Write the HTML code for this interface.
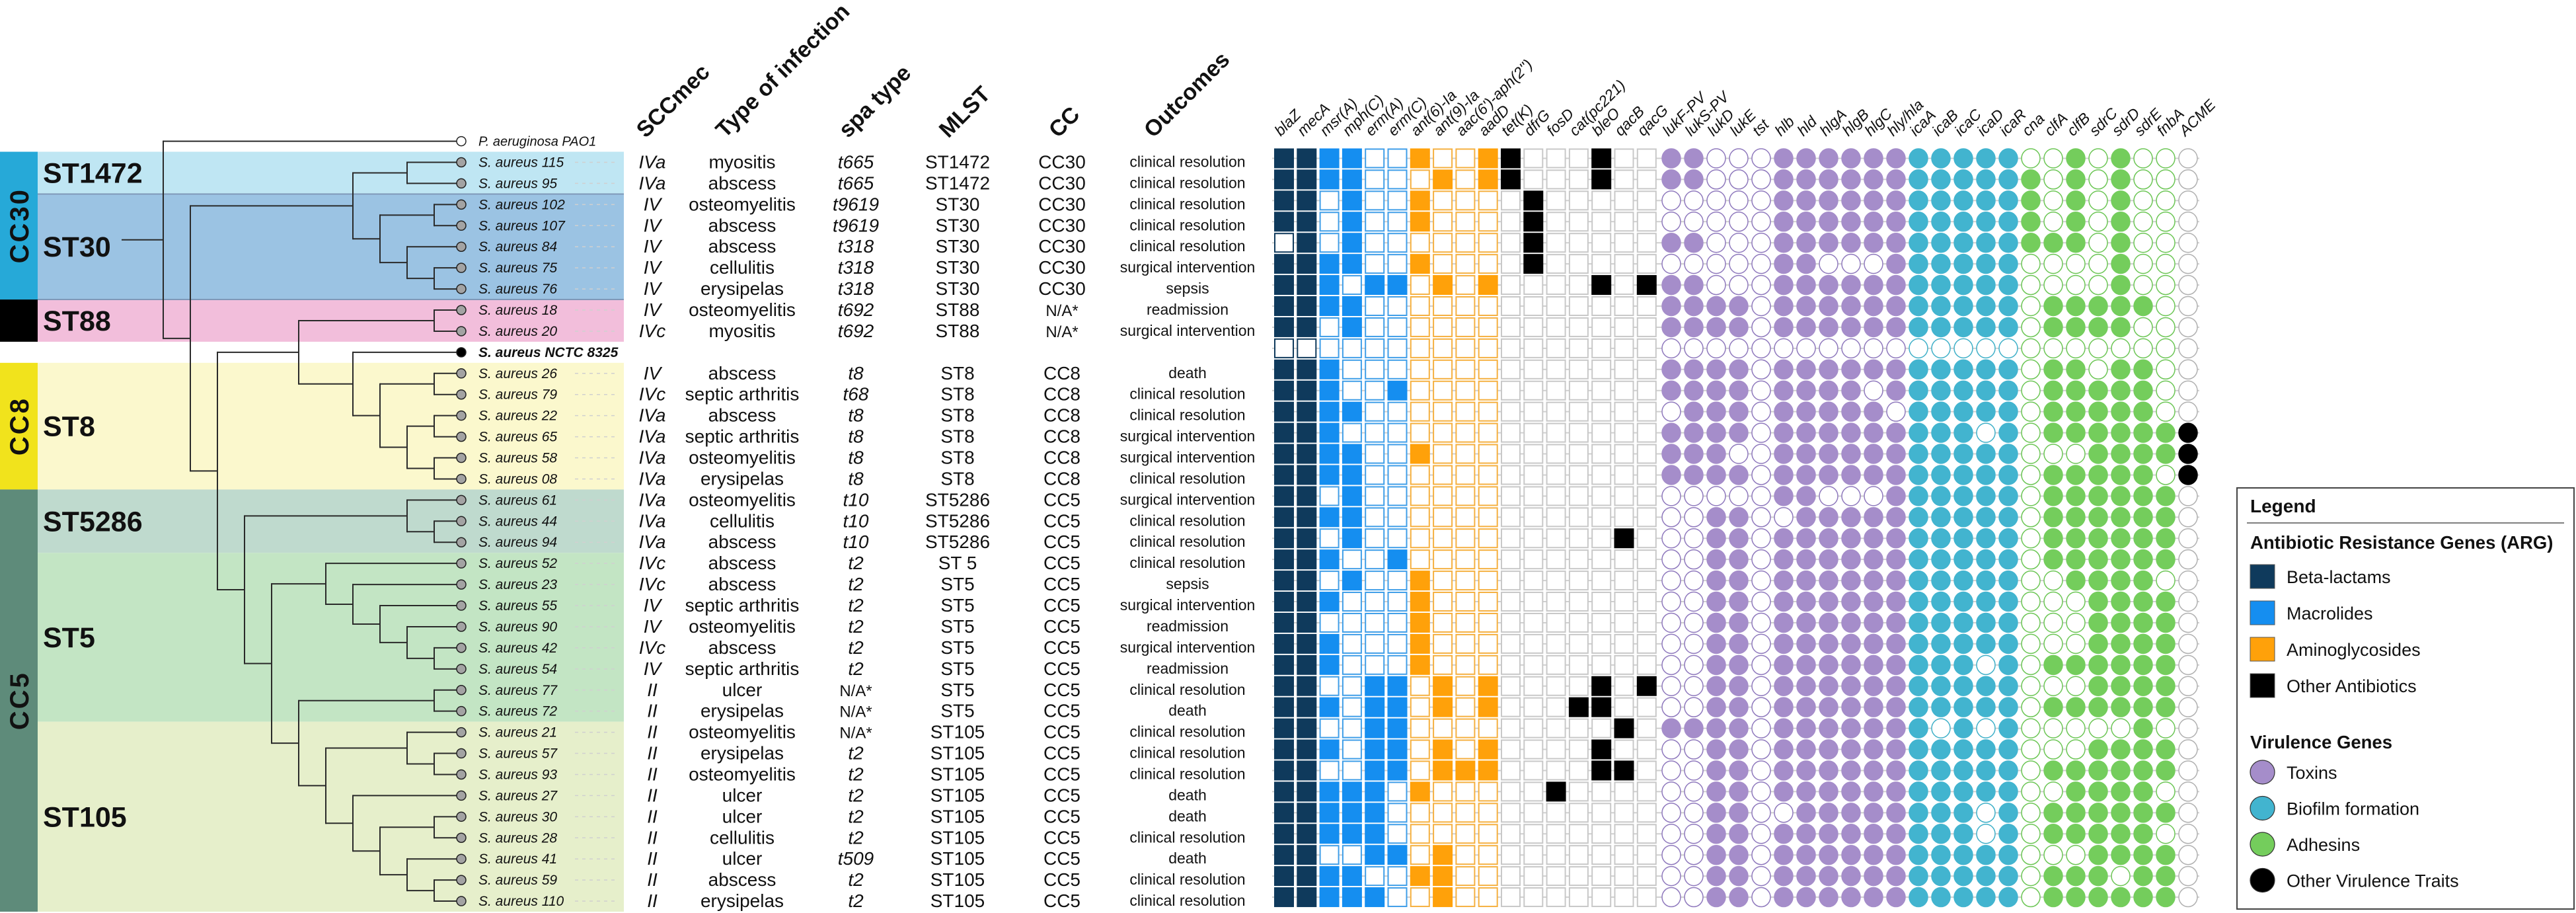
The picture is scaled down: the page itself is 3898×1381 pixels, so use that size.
<!DOCTYPE html>
<html><head><meta charset="utf-8">
<style>
html,body{margin:0;padding:0;background:#fff;}
svg{display:block;font-family:"Liberation Sans",sans-serif;}
</style></head>
<body>
<svg id="fig" xmlns="http://www.w3.org/2000/svg" width="3898" height="1381" viewBox="0 0 3898 1381"></svg>
<script>
// ---------- data ----------
const strains = ["S. aureus 115","S. aureus 95","S. aureus 102","S. aureus 107","S. aureus 84","S. aureus 75","S. aureus 76","S. aureus 18","S. aureus 20","S. aureus NCTC 8325","S. aureus 26","S. aureus 79","S. aureus 22","S. aureus 65","S. aureus 58","S. aureus 08","S. aureus 61","S. aureus 44","S. aureus 94","S. aureus 52","S. aureus 23","S. aureus 55","S. aureus 90","S. aureus 42","S. aureus 54","S. aureus 77","S. aureus 72","S. aureus 21","S. aureus 57","S. aureus 93","S. aureus 27","S. aureus 30","S. aureus 28","S. aureus 41","S. aureus 59","S. aureus 110"];
const sccmec = ["IVa","IVa","IV","IV","IV","IV","IV","IV","IVc","","IV","IVc","IVa","IVa","IVa","IVa","IVa","IVa","IVa","IVc","IVc","IV","IV","IVc","IV","II","II","II","II","II","II","II","II","II","II","II"];
const infection = ["myositis","abscess","osteomyelitis","abscess","abscess","cellulitis","erysipelas","osteomyelitis","myositis","","abscess","septic arthritis","abscess","septic arthritis","osteomyelitis","erysipelas","osteomyelitis","cellulitis","abscess","abscess","abscess","septic arthritis","osteomyelitis","abscess","septic arthritis","ulcer","erysipelas","osteomyelitis","erysipelas","osteomyelitis","ulcer","ulcer","cellulitis","ulcer","abscess","erysipelas"];
const spaType = ["t665","t665","t9619","t9619","t318","t318","t318","t692","t692","","t8","t68","t8","t8","t8","t8","t10","t10","t10","t2","t2","t2","t2","t2","t2","N/A*","N/A*","N/A*","t2","t2","t2","t2","t2","t509","t2","t2"];
const mlst = ["ST1472","ST1472","ST30","ST30","ST30","ST30","ST30","ST88","ST88","","ST8","ST8","ST8","ST8","ST8","ST8","ST5286","ST5286","ST5286","ST 5","ST5","ST5","ST5","ST5","ST5","ST5","ST5","ST105","ST105","ST105","ST105","ST105","ST105","ST105","ST105","ST105"];
const ccs = ["CC30","CC30","CC30","CC30","CC30","CC30","CC30","N/A*","N/A*","","CC8","CC8","CC8","CC8","CC8","CC8","CC5","CC5","CC5","CC5","CC5","CC5","CC5","CC5","CC5","CC5","CC5","CC5","CC5","CC5","CC5","CC5","CC5","CC5","CC5","CC5"];
const outcomes = ["clinical resolution","clinical resolution","clinical resolution","clinical resolution","clinical resolution","surgical intervention","sepsis","readmission","surgical intervention","","death","clinical resolution","clinical resolution","surgical intervention","surgical intervention","clinical resolution","surgical intervention","clinical resolution","clinical resolution","clinical resolution","sepsis","surgical intervention","readmission","surgical intervention","readmission","clinical resolution","death","clinical resolution","clinical resolution","clinical resolution","death","death","clinical resolution","death","clinical resolution","clinical resolution"];

const argGenes = ["blaZ","mecA","msr(A)","mph(C)","erm(A)","erm(C)","ant(6)-Ia","ant(9)-Ia","aac(6')-aph(2'')","aadD","tet(K)","dfrG","fosD","cat(pc221)","bleO","qacB","qacG"];
const argClass = ["b","b","m","m","m","m","a","a","a","a","o","o","o","o","o","o","o"];
const virGenes = ["lukF-PV","lukS-PV","lukD","lukE","tst","hlb","hld","hlgA","hlgB","hlgC","hly/hla","icaA","icaB","icaC","icaD","icaR","cna","clfA","clfB","sdrC","sdrD","sdrE","fnbA","ACME"];
const virClass = ["t","t","t","t","t","t","t","t","t","t","t","f","f","f","f","f","d","d","d","d","d","d","d","x"];

const argPresence = [
"11110010011000100","11110001011000100","11010010000100000","11010010000100000","01010000000100000",
"11110010000100000","11101101010000101","11110000000000000","11010000000000000","00000000000000000",
"11100000000000000","11100100000000000","11110000000000000","11100000000000000","11110010000000000",
"11110000000000000","11010000000000000","11110000000000000","11010000000000010","11100100000000000",
"11010010000000000","11100010000000000","11000010000000000","11100010000000000","11100010000000000",
"11001101010000101","11101101010001100","11001100000000010","11101101010000100","11001101110000110",
"11111010000010000","11111000000000000","11111000000000000","11001101000000000","11110011000000000",
"11111001000000000"];
const virPresence = [
"110001111111111100101000","110001111111111110101000","000001111111111110101000","000001111111111110101000",
"110001111111111111101000","000001100011111100001000","110001111111111100001000","111101111111111101111100",
"111101111111111101111000","000000000000000000000000","111101111111111101101100","111101111011111101111100",
"011101111101111101111100","111101111111110101111111","111001111111111100011111","111101111111111101111101",
"000001100011111101111110","001100111111111101111110","001101111111111101111110","001101111111111101111110",
"001101111111111100111100","001101111111111100011110","001101111111111100011110","001101111111111100011110",
"001101111111110101111110","001101111111111100011110","001101111111111101111110","111101111111010100000100",
"001101111111111100011110","001101111111111101111110","001101111111111100111100","001100111111110101111110",
"001101111111110101111100","001101111111111100011110","001101111111111101110110","001101111111111101111110"];

// tree: [level, child, child]; leaves are row indices (-1 = outgroup)
const tree = [0, -1, [1,
  [7, [9,0,1], [8, [10,2,3], [9, 4, [10,5,6]]]],
  [2,
    [5, [10,7,8], [7, 9, [8, [10,10,11], [9, [10,12,13], [10,14,15]]]]],
    [3, [9,16,[10,17,18]],
      [4,
        [6, 19, [7, 20, [8, 21, [9, 22, [10,23,24]]]]],
        [5, [10,25,26], [6, [9,27,[10,28,29]], [7, 30, [8, [10,31,32], [9, 33, [10,34,35]]]]]]
      ]
    ]
  ]
]];

const stGroups = ["ST1472","ST30","ST88","ST8","ST5286","ST5","ST105"];
const stRows = [[0,1],[2,6],[7,8],[10,15],[16,18],[19,26],[27,35]];
const stColors = ["#bfe6f3","#9bc3e3","#f2bedb","#fbf8cd","#bfdace","#c3e5c4","#e6efcb"];
const ccGroups = ["CC30","","CC8","CC5"];
const ccRows = [[0,6],[7,8],[10,15],[16,35]];
const ccColors = ["#26a9d8","#000000","#f1e31c","#5e8b7a"];

// ---------- layout ----------
const NS = "http://www.w3.org/2000/svg";
const svg = document.getElementById("fig");
const rowY = i => 245.5 + 31.93 * i;
const matY = i => 239.5 + 31.93 * i;
const lvlX = l => 247 + 41 * l;
const TIPX = 698;
const sqX = k => 1928 + 34.3 * k;
const ciX = k => 2529 + 34 * k;
const FILL = {b:"#0f3a5c",m:"#158ef0",a:"#ffa10a",o:"#000",t:"#a58dca",f:"#42b4cf",d:"#74cd5c",x:"#000"};
const STROKE = {b:"#0f3a5c",m:"#3f9ee8",a:"#f5b040",o:"#c8c8c8",t:"#8f79bd",f:"#3fb0c8",d:"#6cc655",x:"#b0b0b0"};

function mk(tag, attrs, parent, txt){
  const e = document.createElementNS(NS, tag);
  for (const k in attrs) e.setAttribute(k, attrs[k]);
  if (txt !== undefined) e.textContent = txt;
  (parent || svg).appendChild(e);
  return e;
}
let el;

stGroups.forEach((g, i) => {
  const y0 = rowY(stRows[i][0]) - 15.97, y1 = rowY(stRows[i][1]) + 15.97;
  el = mk("rect", {x:57, y:y0, width:887, height:y1-y0, fill:stColors[i]});
  
  
  el = mk("text", {x:65, y:(y0+y1)/2+15, "font-size":43, "font-weight":"bold", fill:"#111"}, svg, g);
  
  
});
[293.5, 453].forEach(y => {
  el = mk("line", {x1:57, x2:944, y1:y, y2:y, stroke:"#7f98b8", "stroke-width":2});
  
  
});
ccRows.forEach((r, i) => {
  const y0 = rowY(r[0]) - 15.97, y1 = rowY(r[1]) + 15.97;
  el = mk("rect", {x:0, y:y0, width:57, height:y1-y0, fill:ccColors[i]});
  
  
  if (ccGroups[i]) {
    const cy = (y0+y1)/2;
    el = mk("text", {x:0, y:0, "font-size":40, "font-weight":"bold", "letter-spacing":3, fill:"#111", "text-anchor":"middle",
      transform:`translate(43,${cy}) rotate(-90)`}, svg, ccGroups[i]);
    
    
  }
});

function drawNode(n){
  if (typeof n === "number") return rowY(n);
  const [lvl, a, b] = n;
  const x = lvlX(lvl);
  const ys = [a, b].map(c => {
    const cy = drawNode(c);
    const cx = typeof c === "number" ? TIPX - 7 : lvlX(c[0]);
    el = mk("line", {x1:x, x2:cx, y1:cy, y2:cy, stroke:"#2a2a2a", "stroke-width":2});
    
    
    return cy;
  });
  el = mk("line", {x1:x, x2:x, y1:ys[0]-1, y2:ys[1]+1, stroke:"#2a2a2a", "stroke-width":2});
  
  
  return (ys[0]+ys[1])/2;
}
const rootY = drawNode(tree);
el = mk("line", {x1:184, x2:247, y1:rootY, y2:rootY, stroke:"#2a2a2a", "stroke-width":2});



el = mk("circle", {cx:TIPX, cy:rowY(-1), r:7, fill:"#fff", stroke:"#222", "stroke-width":1.5});


el = mk("text", {x:724, y:rowY(-1)+7, "font-size":20, "font-style":"italic", fill:"#111"}, svg, "P. aeruginosa PAO1");


strains.forEach((s, i) => {
  const y = rowY(i), ref = i === 9;
  el = mk("circle", {cx:TIPX, cy:y, r:7, fill: ref ? "#000" : "#a3a3a3", stroke:"#222", "stroke-width":1.5});
  
  
  el = mk("text", {x:724, y:y+7, "font-size":21, "font-style":"italic", "font-weight": ref ? "bold" : "normal", fill:"#111"}, svg, s);
  
  
  if (!ref) {
    el = mk("line", {x1:870, x2:930, y1:y, y2:y, stroke:"#d0d0d0", "stroke-width":1.5, "stroke-dasharray":"5 6"});
    
    
  }
});

const cols = [
  {data:sccmec, x:987, size:28, style:"italic", name:"sccmec"},
  {data:infection, x:1123, size:28, style:"normal", name:"infection"},
  {data:spaType, x:1295, size:28, style:"italic", name:"spa-type"},
  {data:mlst, x:1449, size:28, style:"normal", name:"mlst"},
  {data:ccs, x:1607, size:28, style:"normal", name:"cc"},
  {data:outcomes, x:1797, size:23, style:"normal", name:"outcome"}
];
cols.forEach(c => {
  c.data.forEach((v, i) => {
    if (!v) return;
    const st = (c.name === "spa-type" && v === "N/A*") ? "normal" : c.style;
    const sz = (v === "N/A*") ? 24 : c.size;
    el = mk("text", {x:c.x, y:rowY(i) + (c.size === 28 ? 9 : 7), "font-size":sz, "font-style":st, "text-anchor":"middle", fill:"#111"}, svg, v);
    
    
  });
});
const headers = ["SCCmec","Type of infection","spa type","MLST","CC","Outcomes"];
const headerX = [977, 1097, 1283, 1435, 1601, 1745];
headers.forEach((h, i) => {
  el = mk("text", {x:0, y:0, "font-size":34, "font-weight":"bold", fill:"#111", transform:`translate(${headerX[i]},210) rotate(-45)`}, svg, h);
  
  
});

strains.forEach((s, i) => {
  el = mk("line", {x1:1925, x2:3328, y1:matY(i), y2:matY(i), stroke:"#cfcfcf", "stroke-width":2});
  
  
});
argPresence.forEach((row, i) => {
  argGenes.forEach((g, k) => {
    const on = row[k] === "1", c = argClass[k];
    el = mk("rect", {x:sqX(k)+1, y:matY(i)-14, width:28, height:28,
      fill: on ? FILL[c] : "#fff", stroke: on ? FILL[c] : STROKE[c], "stroke-width":2});
    
    
  });
  virGenes.forEach((g, k) => {
    const on = virPresence[i][k] === "1", c = virClass[k];
    el = mk("ellipse", {cx:ciX(k), cy:matY(i), rx:14, ry:14.5,
      fill: on ? FILL[c] : "#fff", stroke: on ? FILL[c] : STROKE[c], "stroke-width":1.5});
    
    
  });
});
argGenes.forEach((g, k) => {
  el = mk("text", {x:0, y:0, "font-size":23, "font-style":"italic", fill:"#111", transform:`translate(${sqX(k)+10},207) rotate(-45)`}, svg, g);
  
  
});
virGenes.forEach((g, k) => {
  el = mk("text", {x:0, y:0, "font-size":23, "font-style":"italic", fill:"#111", transform:`translate(${ciX(k)-4},207) rotate(-45)`}, svg, g);
  
  
});

const lg = mk("g", {});


el = mk("rect", {x:3385, y:738, width:510, height:637, fill:"#fff", stroke:"#444", "stroke-width":2}, lg);


el = mk("text", {x:3405, y:775, "font-size":28, "font-weight":"bold", fill:"#111"}, lg, "Legend");


el = mk("line", {x1:3400, x2:3880, y1:791, y2:791, stroke:"#555", "stroke-width":1.5}, lg);


el = mk("text", {x:3405, y:830, "font-size":27.5, "font-weight":"bold", fill:"#111"}, lg, "Antibiotic Resistance Genes (ARG)");


const argLegend = ["Beta-lactams","Macrolides","Aminoglycosides","Other Antibiotics"];
const argLegendCls = ["b","m","a","o"];
argLegend.forEach((t, i) => {
  const y = 854 + 55 * i;
  el = mk("rect", {x:3405, y:y, width:37, height:36, fill:FILL[argLegendCls[i]], stroke:"#555", "stroke-width":1}, lg);
  
  
  el = mk("text", {x:3460, y:y+28, "font-size":27, fill:"#111"}, lg, t);
  
  
});
el = mk("text", {x:3405, y:1132, "font-size":27.5, "font-weight":"bold", fill:"#111"}, lg, "Virulence Genes");


const virLegend = ["Toxins","Biofilm formation","Adhesins","Other Virulence Traits"];
const virLegendCls = ["t","f","d","x"];
virLegend.forEach((t, i) => {
  const y = 1168 + 54.5 * i;
  el = mk("ellipse", {cx:3423.5, cy:y, rx:18.5, ry:18, fill:FILL[virLegendCls[i]], stroke:"#333", "stroke-width":1.2}, lg);
  
  
  el = mk("text", {x:3460, y:y+10, "font-size":27, fill:"#111"}, lg, t);
  
  
});
</script>
</body></html>
